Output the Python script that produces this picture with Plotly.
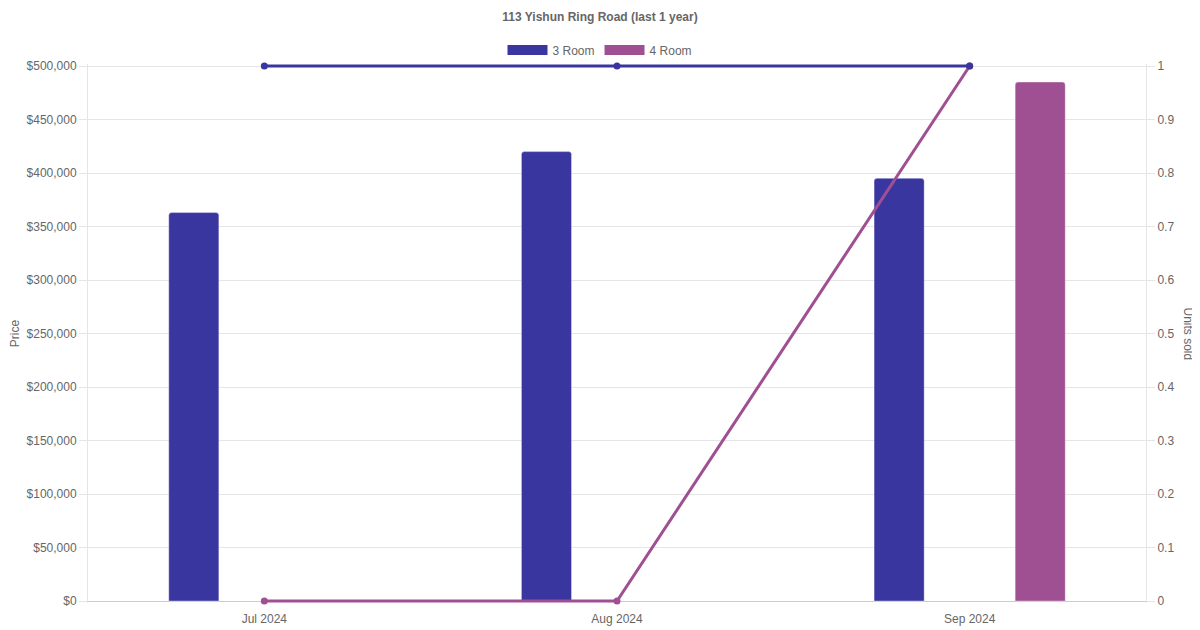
import plotly.graph_objects as go

# data
MONTHS = ["Jul 2024", "Aug 2024", "Sep 2024"]
PRICE_3RM = [363000, 420000, 395000]
PRICE_4RM = [None, None, 485000]
UNITS_3RM = [1, 1, 1]
UNITS_4RM = [0, 0, 1]

BLUE = "#3a36a0"
PURPLE = "#9f5093"
GRID = "#e5e5e5"
TXT = "#666666"

# page body has an 8px margin, so the figure is drawn 8px smaller
W, H = 1192, 622
# pad the value ranges by 2px each side so lines at 0 and 1 are not clipped
PAD = 2 / 535

fig = go.Figure()

# bars (price, left axis)
fig.add_trace(go.Bar(x=MONTHS, y=PRICE_3RM, name="3 Room",
                     marker=dict(color=BLUE, line=dict(color="rgba(255,255,255,0.35)", width=1)),
                     showlegend=False))
fig.add_trace(go.Bar(x=MONTHS, y=PRICE_4RM, name="4 Room",
                     marker=dict(color=PURPLE, line=dict(color="rgba(255,255,255,0.35)", width=1)),
                     showlegend=False))

# lines (units sold, right axis)
fig.add_trace(go.Scatter(x=MONTHS, y=UNITS_4RM, yaxis="y2", mode="lines+markers",
                         line=dict(color=PURPLE, width=3), marker=dict(size=7, color=PURPLE),
                         cliponaxis=False, showlegend=False))
fig.add_trace(go.Scatter(x=MONTHS, y=UNITS_3RM, yaxis="y2", mode="lines+markers",
                         line=dict(color=BLUE, width=3), marker=dict(size=7, color=BLUE),
                         cliponaxis=False, showlegend=False))

# legend entries, drawn as wide swatches
for nm, col in [("3 Room", BLUE), ("4 Room", PURPLE)]:
    fig.add_trace(go.Scatter(x=[None], y=[None], name=nm, mode="lines",
                             line=dict(color=col, width=12)))

fig.update_layout(
    width=W, height=H,
    margin=dict(l=80, r=54, t=56, b=27, autoexpand=False),
    paper_bgcolor="white", plot_bgcolor="white",
    font=dict(family="Liberation Sans, Arial, sans-serif", size=12, color=TXT),
    title=dict(text="<b>113 Yishun Ring Road (last 1 year)</b>", x=(600 - 8) / W, xref="container",
               xanchor="center", y=1 - 9 / H, yref="container", yanchor="middle",
               font=dict(size=12, color=TXT)),
    barmode="group", bargap=0.2, bargroupgap=0.645, barcornerradius=3,
    legend=dict(orientation="h", x=(600 - 8) / W, xanchor="center", xref="container",
                y=1 - 42 / H, yanchor="middle", yref="container", bgcolor="rgba(0,0,0,0)",
                itemwidth=40, font=dict(size=12, color=TXT)),
    xaxis=dict(showgrid=False, showline=False, ticks="outside",
               ticklen=5, tickcolor="rgba(0,0,0,0)",
               range=[-0.5, 2.5], automargin=False, tickfont=dict(size=12, color=TXT)),
    yaxis=dict(range=[-500000 * PAD, 500000 * (1 + PAD)], tick0=0, dtick=50000,
               tickprefix="$", tickformat=",d", layer="below traces",
               gridcolor=GRID, showline=True, linecolor=GRID, ticks="outside",
               ticklen=8, tickcolor=GRID, zeroline=True, zerolinecolor="#cccccc",
               zerolinewidth=1, automargin=False,
               title=dict(text="Price", standoff=4, font=dict(size=12, color=TXT))),
    yaxis2=dict(range=[-PAD, 1 + PAD], tick0=0, dtick=0.1, overlaying="y", side="right",
                layer="below traces",
                showgrid=False, showline=True, linecolor=GRID, ticks="outside", ticklen=8,
                tickcolor=GRID, zeroline=False, automargin=False),
    annotations=[dict(text="Units sold", textangle=90, xref="paper", yref="paper",
                      x=1, xshift=42, xanchor="center", y=0.5, yanchor="middle",
                      showarrow=False, font=dict(size=12, color=TXT))],
)

fig.write_html("out.html")
